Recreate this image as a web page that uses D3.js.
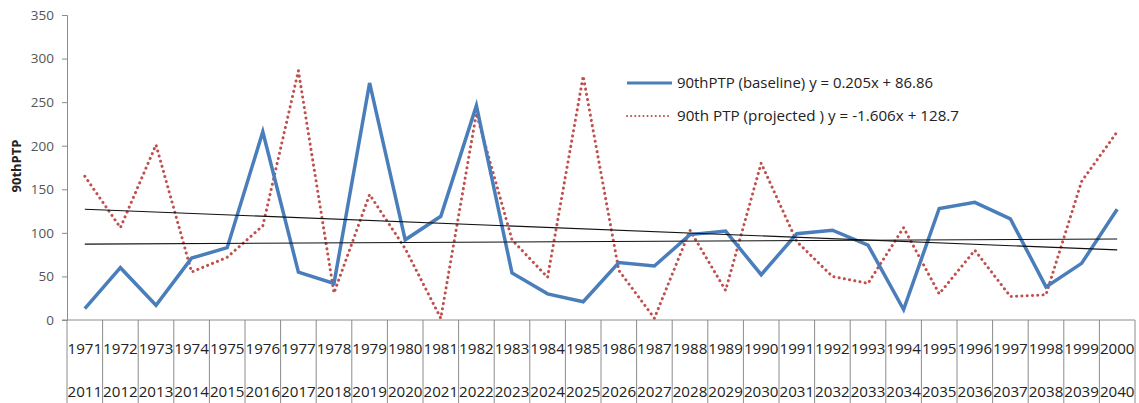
<!DOCTYPE html>
<html><head><meta charset="utf-8">
<script src="https://cdn.jsdelivr.net/npm/d3@7"></script>
<style>html,body{margin:0;padding:0;background:#fff;}svg{display:block;}</style>
</head><body>
<svg id="c" width="1139" height="403"></svg>
<script>
const yearsBaseline = [1971,1972,1973,1974,1975,1976,1977,1978,1979,1980,1981,1982,1983,1984,1985,1986,1987,1988,1989,1990,1991,1992,1993,1994,1995,1996,1997,1998,1999,2000];
const yearsProjected = [2011,2012,2013,2014,2015,2016,2017,2018,2019,2020,2021,2022,2023,2024,2025,2026,2027,2028,2029,2030,2031,2032,2033,2034,2035,2036,2037,2038,2039,2040];
const baselineValues = [13,60,17,71,83,216,55,42,272,92,119,246,54,30,21,66,62,98,102,52,99,103,86,12,128,135,116,38,65,127];
const projectedValues = [165,106,201,55,72,108,286,31,144,82,2,237,92,49,280,57,2,103,34,180,90,50,42,106,30,80,27,29,159,216];
const yTicks = [0,50,100,150,200,250,300,350];
const seriesNames = ["90thPTP (baseline) y = 0.205x + 86.86", "90th PTP (projected ) y = -1.606x + 128.7"];
const trendSlopes = [0.205, -1.606];
const trendIntercepts = [86.86, 128.7];

(function(){
const svg = d3.select("#c");
const mLeft = 67, mRight = 1135, mTop = 15, mBottom = 320;
const cats = yearsBaseline.map((d,i)=>i);
const x = d3.scaleBand().domain(cats).range([mLeft, mRight]).padding(0);
const cx = i => x(i) + x.bandwidth()/2;
const y = d3.scaleLinear().domain([0,350]).range([mBottom, mTop]);
const axisCol = "#8c8c8c";
const font = "'Open Sans', 'Liberation Sans', sans-serif";

// Y axis
const ya = svg.append("g").attr("transform", `translate(${mLeft},0)`)
  .call(d3.axisLeft(y).tickValues(yTicks).tickSize(5).tickPadding(8));
ya.select(".domain").attr("stroke", axisCol);
ya.selectAll(".tick line").attr("stroke", axisCol);
ya.selectAll(".tick text").attr("fill", "#555").style("font-family", font).style("font-size", "13.5px");

// X axis line
svg.append("line").attr("x1", mLeft-5).attr("x2", mRight).attr("y1", mBottom).attr("y2", mBottom)
  .attr("stroke", axisCol);
// category dividers
const bounds = cats.map(i => x(i)).concat([mRight]);
svg.append("g").selectAll("line").data(bounds).join("line")
  .attr("x1", d=>d).attr("x2", d=>d).attr("y1", mBottom).attr("y2", 403)
  .attr("stroke", axisCol).attr("stroke-width", 1);
// category labels
const lab = svg.append("g").style("font-family", font).style("font-size", "14.5px").attr("fill", "#222");
lab.selectAll("text.b").data(cats).join("text").attr("class","b")
  .attr("x", i=>cx(i)).attr("y", 354).attr("text-anchor","middle")
  .attr("textLength", x.bandwidth()-1).attr("lengthAdjust","spacingAndGlyphs")
  .text(i=>yearsBaseline[i]);
lab.selectAll("text.p").data(cats).join("text").attr("class","p")
  .attr("x", i=>cx(i)).attr("y", 397).attr("text-anchor","middle")
  .attr("textLength", x.bandwidth()-1).attr("lengthAdjust","spacingAndGlyphs")
  .text(i=>yearsProjected[i]);

// Y title
svg.append("text").attr("transform", `translate(21,166) rotate(-90)`)
  .attr("text-anchor","middle").style("font-family", font).style("font-size","13px")
  .style("font-weight","bold").attr("fill","#222").text("90thPTP");

const line = d3.line().x((d,i)=>cx(i)).y(d=>y(d));

// series
svg.append("path").datum(projectedValues).attr("d", line).attr("fill","none")
  .attr("stroke","#c0504d").attr("stroke-width",3).attr("stroke-linecap","round")
  .attr("stroke-dasharray","0.1 5.2");
svg.append("path").datum(baselineValues).attr("d", line).attr("fill","none")
  .attr("stroke","#4a7ebb").attr("stroke-width",3.5).attr("stroke-linejoin","miter");

// trendlines
trendSlopes.forEach((m,k)=>{
  const n = cats.length;
  svg.append("line").attr("x1", cx(0)).attr("x2", cx(n-1))
    .attr("y1", y(m*1 + trendIntercepts[k])).attr("y2", y(m*n + trendIntercepts[k]))
    .attr("stroke","#111").attr("stroke-width",1.1);
});

// legend
const lg = svg.append("g");
lg.append("line").attr("x1",627).attr("x2",672).attr("y1",83).attr("y2",83)
  .attr("stroke","#4a7ebb").attr("stroke-width",3);
lg.append("line").attr("x1",627).attr("x2",672).attr("y1",116).attr("y2",116)
  .attr("stroke","#c0504d").attr("stroke-width",2).attr("stroke-linecap","round")
  .attr("stroke-dasharray","0.1 4");
lg.append("text").attr("x",677).attr("y",88).style("font-family",font).style("font-size","14px")
  .attr("fill","#222").attr("textLength",256).attr("lengthAdjust","spacingAndGlyphs").text(seriesNames[0]);
lg.append("text").attr("x",677).attr("y",121).style("font-family",font).style("font-size","14px")
  .attr("fill","#222").attr("textLength",282).attr("lengthAdjust","spacingAndGlyphs").text(seriesNames[1]);
})();
</script>
</body></html>
